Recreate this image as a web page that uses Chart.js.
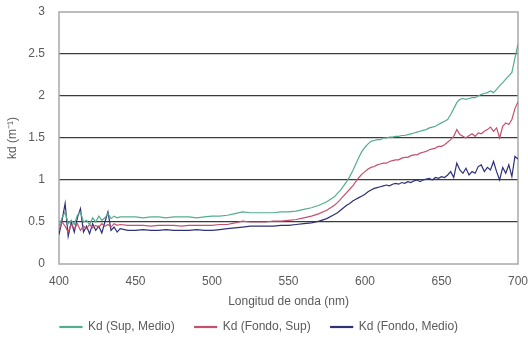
<!DOCTYPE html>
<html>
<head>
<meta charset="utf-8">
<script src="https://cdn.jsdelivr.net/npm/chart.js@4"></script>
<style>
  html, body { margin: 0; padding: 0; background: #fff; }
  #wrap { width: 528px; height: 352px; }
</style>
</head>
<body>
<div id="wrap"><canvas id="myChart" width="528" height="352"></canvas></div>
<script>
const wavelengths = [
  400, 402, 404, 406, 408, 410, 412, 414, 416, 418, 420, 422, 424, 426, 428, 430, 432, 434, 436, 438, 440,
  445, 450, 455, 460, 465, 470, 475, 480, 485, 490, 495, 500, 505, 510, 515, 520, 525, 530, 535, 540, 545, 550, 555, 560, 565, 570, 575, 580,
  582, 584, 586, 588, 590, 592, 594, 596, 598, 600, 602, 604, 606, 608, 610, 612, 614, 616, 618, 620,
  622, 624, 626, 628, 630, 632, 634, 636, 638, 640, 642, 644, 646, 648, 650, 652, 654, 656, 658, 660,
  662, 664, 666, 668, 670, 672, 674, 676, 678, 680, 682, 684, 686, 688, 690, 692, 694, 696, 698, 700
];

const kdSupMedio = [
  0.45, 0.55, 0.62, 0.48, 0.52, 0.47, 0.58, 0.62, 0.50, 0.52, 0.47, 0.55, 0.50, 0.57, 0.52, 0.55, 0.60, 0.54, 0.57, 0.55, 0.56,
  0.56, 0.56, 0.55, 0.56, 0.56, 0.55, 0.56, 0.56, 0.56, 0.55, 0.56, 0.57, 0.57, 0.58, 0.60, 0.62, 0.61, 0.61, 0.61, 0.61, 0.62, 0.62, 0.63, 0.65, 0.67, 0.70, 0.74, 0.80,
  0.84, 0.88, 0.93, 0.98, 1.04, 1.11, 1.19, 1.27, 1.34, 1.39, 1.43, 1.46, 1.47, 1.48, 1.48, 1.50, 1.50, 1.51, 1.51, 1.52,
  1.52, 1.53, 1.53, 1.54, 1.55, 1.56, 1.57, 1.58, 1.59, 1.60, 1.62, 1.63, 1.64, 1.66, 1.68, 1.70, 1.72, 1.78, 1.85, 1.92,
  1.96, 1.97, 1.96, 1.97, 1.98, 1.98, 2.00, 2.02, 2.03, 2.04, 2.06, 2.04, 2.08, 2.12, 2.16, 2.20, 2.24, 2.28, 2.45, 2.62
];

const kdFondoSup = [
  0.40, 0.50, 0.45, 0.38, 0.47, 0.42, 0.48, 0.40, 0.45, 0.42, 0.47, 0.43, 0.46, 0.44, 0.48, 0.45, 0.47, 0.44, 0.48, 0.46, 0.47,
  0.46, 0.46, 0.46, 0.45, 0.46, 0.46, 0.46, 0.45, 0.46, 0.46, 0.46, 0.46, 0.47, 0.47, 0.49, 0.51, 0.50, 0.50, 0.50, 0.51, 0.51, 0.52, 0.53, 0.55, 0.57, 0.60, 0.64, 0.70,
  0.73, 0.77, 0.81, 0.85, 0.89, 0.93, 0.98, 1.03, 1.07, 1.10, 1.13, 1.15, 1.16, 1.18, 1.19, 1.20, 1.20, 1.22, 1.23, 1.24,
  1.24, 1.26, 1.27, 1.27, 1.29, 1.30, 1.30, 1.32, 1.33, 1.34, 1.36, 1.37, 1.38, 1.40, 1.40, 1.42, 1.45, 1.48, 1.52, 1.60,
  1.54, 1.52, 1.50, 1.53, 1.55, 1.52, 1.56, 1.55, 1.58, 1.60, 1.63, 1.58, 1.62, 1.50, 1.64, 1.68, 1.66, 1.72, 1.85, 1.93
];

const kdFondoMedio = [
  0.35, 0.52, 0.72, 0.33, 0.50, 0.38, 0.55, 0.66, 0.38, 0.45, 0.36, 0.48, 0.40, 0.45, 0.37, 0.50, 0.62, 0.40, 0.44, 0.38, 0.42,
  0.40, 0.40, 0.41, 0.40, 0.40, 0.41, 0.40, 0.40, 0.40, 0.41, 0.40, 0.40, 0.41, 0.42, 0.43, 0.44, 0.45, 0.45, 0.45, 0.45, 0.46, 0.46, 0.47, 0.48, 0.49, 0.51, 0.54, 0.59,
  0.61, 0.64, 0.67, 0.70, 0.72, 0.75, 0.77, 0.79, 0.81, 0.83, 0.86, 0.88, 0.90, 0.91, 0.92, 0.93, 0.94, 0.93, 0.95, 0.96,
  0.95, 0.97, 0.96, 0.98, 0.97, 0.99, 1.00, 0.98, 1.00, 1.01, 1.02, 1.00, 1.03, 1.02, 1.04, 1.03, 1.06, 1.10, 1.03, 1.20,
  1.12, 1.08, 1.14, 1.06, 1.10, 1.08, 1.16, 1.18, 1.10, 1.15, 1.12, 1.22, 1.10, 1.00, 1.15, 1.08, 1.18, 1.04, 1.28, 1.25
];

const seriesLabels = ["Kd (Sup, Medio)", "Kd (Fondo, Sup)", "Kd (Fondo, Medio)"];
const seriesColors = ["#55ad8e", "#c4506c", "#2e3178"];
const yTicks = [0, 0.5, 1, 1.5, 2, 2.5, 3];
const xTicks = [400, 450, 500, 550, 600, 650, 700];

const toPoints = (vals) => vals.map((v, i) => ({ x: wavelengths[i], y: v }));

// grey frame round the plot area
const plotBorder = {
  id: "plotBorder",
  beforeDatasetsDraw(chart) {
    const { ctx, chartArea: a } = chart;
    ctx.save();
    ctx.strokeStyle = "#a8a8a8";
    ctx.lineWidth = 1.5;
    ctx.strokeRect(a.left, a.top, a.right - a.left, a.bottom - a.top);
    ctx.restore();
  },
};

const ctx = document.getElementById("myChart").getContext("2d");
const textColor = "#5a5a5a";
const font = { family: "'Liberation Sans', Arial, sans-serif", size: 12 };

new Chart(ctx, {
  type: "line",
  data: {
    datasets: [kdSupMedio, kdFondoSup, kdFondoMedio].map((vals, i) => ({
      label: seriesLabels[i],
      data: toPoints(vals),
      borderColor: seriesColors[i],
      backgroundColor: seriesColors[i],
      borderWidth: 1.2,
      pointRadius: 0,
      tension: 0,
    })),
  },
  options: {
    responsive: false,
    animation: false,
    layout: { padding: { top: 12, right: 10, left: 0, bottom: 9 } },
    plugins: {
      legend: {
        position: "bottom",
        labels: {
          color: textColor,
          font: font,
          boxWidth: 22,
          boxHeight: 1,
          padding: 20,
        },
      },
      tooltip: { enabled: false },
    },
    scales: {
      x: {
        type: "linear",
        min: 400,
        max: 700,
        afterBuildTicks: (s) => { s.ticks = xTicks.map((v) => ({ value: v })); },
        grid: { display: false, drawTicks: false },
        border: { display: false },
        ticks: { color: textColor, font: font, padding: 10, maxRotation: 0 },
        title: {
          display: true,
          text: "Longitud de onda (nm)",
          color: textColor,
          font: font,
          padding: { top: 0, bottom: -8 },
        },
        afterFit: (s) => {
          s.height = 37;
          s.paddingLeft = 0;
          s.paddingRight = 0;
        },
      },
      y: {
        min: 0,
        max: 3,
        afterBuildTicks: (s) => { s.ticks = yTicks.map((v) => ({ value: v })); },
        grid: {
          drawTicks: false,
          color: (c) => (c.tick && (c.tick.value === 0 || c.tick.value === 3) ? "rgba(0,0,0,0)" : "#3c3c3c"),
          lineWidth: 1.3,
        },
        border: { display: false },
        ticks: { color: textColor, font: font, padding: 14, callback: (v) => String(v) },
        title: {
          display: true,
          text: "kd (m⁻¹)",
          color: textColor,
          font: font,
          padding: { top: 5, bottom: 0 },
        },
        afterFit: (s) => {
          s.width = 59;
          s.paddingTop = 0;
          s.paddingBottom = 0;
        },
      },
    },
  },
  plugins: [plotBorder],
});
</script>
</body>
</html>
